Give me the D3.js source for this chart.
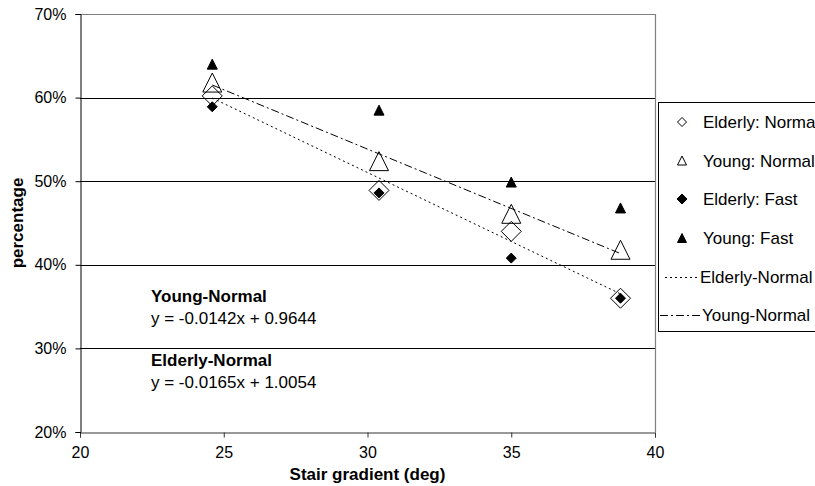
<!DOCTYPE html>
<html>
<head>
<meta charset="utf-8">
<script src="https://cdn.jsdelivr.net/npm/d3@7"></script>
<style>
  body { margin: 0; background: #fff; }
  svg { display: block; font-family: "Liberation Sans", Arial, sans-serif; }
</style>
</head>
<body>
<svg id="chart" width="815" height="486"></svg>
<script>
// Stair gradient (deg) for each measured staircase
const gradients = [24.6, 30.4, 35, 38.8];
// Share of cases (fraction) per group and walking speed
const elderlyNormal = [0.602, 0.489, 0.440, 0.360];
const youngNormal   = [0.618, 0.524, 0.461, 0.418];
const elderlyFast   = [0.589, 0.486, 0.408, 0.360];
const youngFast     = [0.640, 0.585, 0.499, 0.468];
// Linear trend fits for the normal-speed groups
const fitNames      = ["Elderly-Normal", "Young-Normal"];
const fitSlopes     = [-0.0165, -0.0142];
const fitIntercepts = [1.0054, 0.9644];
const fitLabels     = ["y = -0.0165x + 1.0054", "y = -0.0142x + 0.9644"];
// Axis ticks
const xTicks = [20, 25, 30, 35, 40];
const yTicks = [0.2, 0.3, 0.4, 0.5, 0.6, 0.7];

const svg = d3.select("#chart");
const plotL = 80, plotR = 655, plotT = 14, plotB = 432;
const textSize = 17, tickSize = 16;

const x = d3.scaleLinear().domain([20, 40]).range([plotL, plotR]);
const y = d3.scaleLinear().domain([0.2, 0.7]).range([plotB, plotT]);

// Marker shapes, centred on their bounding box
const diamond = r => `M0,${-r}L${r},0L0,${r}L${-r},0Z`;
const triangle = r => `M0,${-r}L${r},${r}L${-r},${r}Z`;

const series = [
  { name: "Elderly: Normal", values: elderlyNormal, path: diamond, r: 10, lr: 4.5, filled: false },
  { name: "Young: Normal",   values: youngNormal,   path: triangle, r: 9.5, lr: 4.5, filled: false },
  { name: "Elderly: Fast",   values: elderlyFast,   path: diamond, r: 5, lr: 5, filled: true },
  { name: "Young: Fast",     values: youngFast,     path: triangle, r: 5, lr: 4.5, filled: true }
];
const fitDash = ["2,3", "8,3,2,3"];

// Gridlines
svg.append("g").selectAll("line")
  .data(yTicks.filter(t => t > 0.2 && t < 0.7))
  .join("line")
  .attr("x1", plotL).attr("x2", plotR)
  .attr("y1", d => Math.round(y(d)) + 0.5).attr("y2", d => Math.round(y(d)) + 0.5)
  .attr("stroke", "#000").attr("stroke-width", 1);

// Plot area border (top and right)
svg.append("path")
  .attr("d", `M${plotL},${plotT + 0.5}H${plotR + 0.5}V${plotB}`)
  .attr("fill", "none").attr("stroke", "#808080").attr("stroke-width", 1.2);

// Axes
const xAxis = d3.axisBottom(x).tickValues(xTicks).tickSize(5).tickPadding(9).tickFormat(d3.format("d"));
const gx = svg.append("g").attr("transform", `translate(0,${plotB + 0.5})`).call(xAxis);
gx.select(".domain").attr("stroke", "#333");
gx.selectAll(".tick line").attr("stroke", "#333");
gx.selectAll("text").attr("font-size", tickSize).attr("font-family", "Liberation Sans, Arial, sans-serif").attr("fill", "#000");

const yAxis = d3.axisLeft(y).tickValues(yTicks).tickSize(5).tickPadding(9).tickFormat(d3.format(".0%"));
const gy = svg.append("g").attr("transform", `translate(${plotL + 0.5},0)`).call(yAxis);
gy.select(".domain").attr("stroke", "#000");
gy.selectAll(".tick line").attr("stroke", "#000");
gy.selectAll("text").attr("font-size", tickSize).attr("font-family", "Liberation Sans, Arial, sans-serif").attr("fill", "#000");

// Axis titles
svg.append("text")
  .attr("x", (plotL + plotR) / 2).attr("y", 480)
  .attr("text-anchor", "middle").attr("font-size", textSize).attr("font-weight", "bold")
  .text("Stair gradient (deg)");
svg.append("text")
  .attr("transform", `translate(23,${(plotT + plotB) / 2}) rotate(-90)`)
  .attr("text-anchor", "middle").attr("font-size", textSize).attr("font-weight", "bold")
  .text("percentage");

// Trend lines over the measured gradient range
const xMin = d3.min(gradients), xMax = d3.max(gradients);
svg.append("g").selectAll("line")
  .data(fitNames.map((n, i) => ({ n, m: fitSlopes[i], b: fitIntercepts[i], dash: fitDash[i] })))
  .join("line")
  .attr("x1", x(xMin)).attr("y1", d => y(d.m * xMin + d.b))
  .attr("x2", x(xMax)).attr("y2", d => y(d.m * xMax + d.b))
  .attr("stroke", "#000").attr("stroke-width", 1)
  .attr("stroke-dasharray", d => d.dash);

// Data markers
series.forEach(s => {
  svg.append("g").selectAll("path")
    .data(s.values.map((v, i) => [gradients[i], v]))
    .join("path")
    .attr("transform", d => `translate(${x(d[0])},${y(d[1])})`)
    .attr("d", s.path(s.r))
    .attr("fill", s.filled ? "#000" : "none")
    .attr("stroke", "#000").attr("stroke-width", 1);
});

// Trend equations
const eq = svg.append("g").attr("font-size", textSize);
[[1, 302], [0, 366]].forEach(([i, yy]) => {
  eq.append("text").attr("x", 151).attr("y", yy).attr("font-weight", "bold").text(fitNames[i]);
  eq.append("text").attr("x", 151).attr("y", yy + 21.5).text(fitLabels[i]);
});

// Legend
const lg = svg.append("g");
lg.append("rect").attr("x", 658.5).attr("y", 102.5).attr("width", 200).attr("height", 229)
  .attr("fill", "#fff").attr("stroke", "#000").attr("stroke-width", 1);
const rowY = [122, 160.5, 199, 238, 277, 315];
series.forEach((s, i) => {
  lg.append("path")
    .attr("transform", `translate(682,${rowY[i]})`)
    .attr("d", s.path(s.lr))
    .attr("fill", s.filled ? "#000" : "none")
    .attr("stroke", "#000").attr("stroke-width", 1);
  lg.append("text").attr("x", 703).attr("y", rowY[i]).attr("dy", "0.36em")
    .attr("font-size", textSize).text(s.name);
});
fitNames.forEach((n, i) => {
  const yy = rowY[4 + i];
  lg.append("line").attr("x1", i === 0 ? 665 : 660).attr("x2", i === 0 ? 697 : 700)
    .attr("y1", yy + 0.5).attr("y2", yy + 0.5)
    .attr("stroke", "#000").attr("stroke-width", 1).attr("stroke-dasharray", fitDash[i]);
  lg.append("text").attr("x", i === 0 ? 700 : 702).attr("y", yy).attr("dy", "0.36em")
    .attr("font-size", textSize).text(n);
});
</script>
</body>
</html>
